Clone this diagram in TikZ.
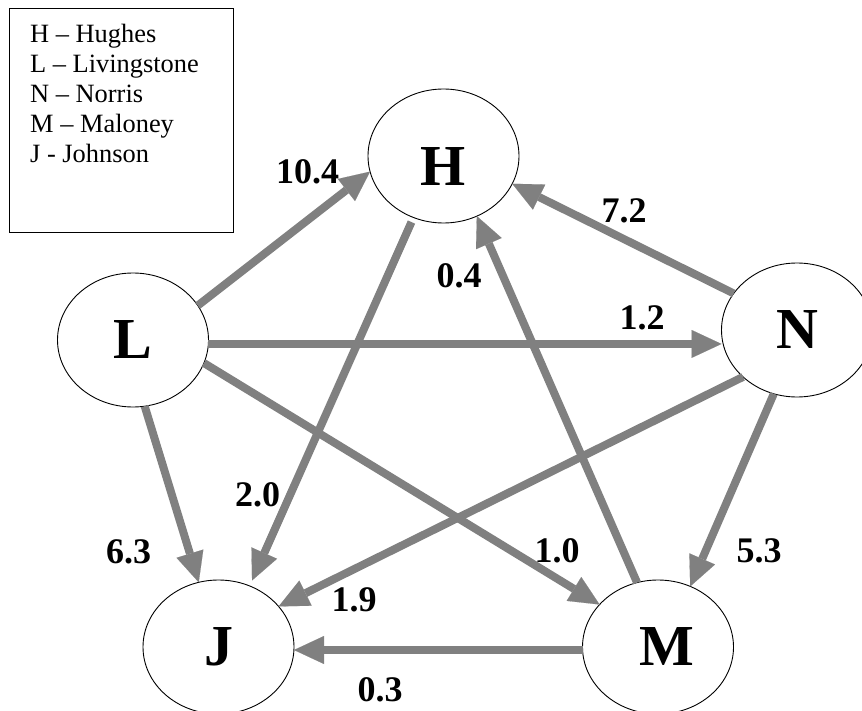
\documentclass[tikz,border=0pt]{standalone}
\usepackage{fontspec}
\setmainfont{Liberation Serif}
\usetikzlibrary{shapes.geometric,arrows.meta}
\definecolor{edgegray}{HTML}{808080}
\begin{document}
\begin{tikzpicture}[x=1pt,y=-1pt,
  person/.style={ellipse,draw=black,line width=0.9pt,minimum width=151pt,minimum height=134pt,inner sep=0pt,outer sep=0pt,font=\fontsize{58}{60}\selectfont\bfseries},
  edge/.style={draw=edgegray,line width=8pt,-{Triangle[length=30pt,width=28pt,line width=0.1pt]}},
  wlabel/.style={font=\fontsize{36}{38}\selectfont\bfseries,inner sep=0pt},
  legend/.style={font=\fontsize{26.4}{30}\selectfont,anchor=base west,inner sep=0pt}]
\useasboundingbox (0,0) rectangle (862,711);
\fill[white] (0,0) rectangle (862,711);

% legend
\node[draw,line width=1.2pt,anchor=north west,minimum width=224pt,minimum height=224pt,inner sep=0pt] (legendbox) at (9,8) {};
\node[legend] (lg1) at (30,43) {H – Hughes};
\node[legend] (lg2) at (30,73) {L – Livingstone};
\node[legend] (lg3) at (30,103) {N – Norris};
\node[legend] (lg4) at (30,133) {M – Maloney};
\node[legend] (lg5) at (30,163) {J - Johnson};

% people
\node[person] (H) at (443.5,156) {\raisebox{-11pt}[\height][0pt]{H}};
\node[person] (L) at (133,340) {L};
\node[person] (N) at (797,330) {N};
\node[person] (J) at (218.5,647) {J};
\node[person] (M) at (658,647) {\kern17pt M};

% edges
\draw[edge] (L.28.7) -- (H.192);
\draw[edge,shorten <=5pt,shorten >=6pt] (H.244) -- (J.63.4);
\draw[edge] (N.150) -- (H.338);
\draw[edge] (M.108) -- (H.299.6);
\draw[edge] (L.-3) -- (L.-3 -| N.west);
\draw[edge] (L.-18.4) -- (M.144.6);
\draw[edge] (L.280) -- (J.107.8);
\draw[edge] (N.221) -- (J.34.2);
\draw[edge] (N.250.3) -- (M.62);
\draw[edge] ([yshift=-3pt]M.west) -- ([yshift=-3pt]J.east);

% weights
\node[wlabel] (w1) at (307.5,172) {10.4};
\node[wlabel] (w2) at (624,211) {7.2};
\node[wlabel] (w3) at (459,276) {0.4};
\node[wlabel] (w4) at (642,317.5) {1.2};
\node[wlabel] (w5) at (257.5,495) {2.0};
\node[wlabel] (w6) at (128.5,551.5) {6.3};
\node[wlabel] (w7) at (557,551) {1.0};
\node[wlabel] (w8) at (759,551) {5.3};
\node[wlabel] (w9) at (354,600) {1.9};
\node[wlabel] (w10) at (380,690) {0.3};
\end{tikzpicture}
\end{document}
